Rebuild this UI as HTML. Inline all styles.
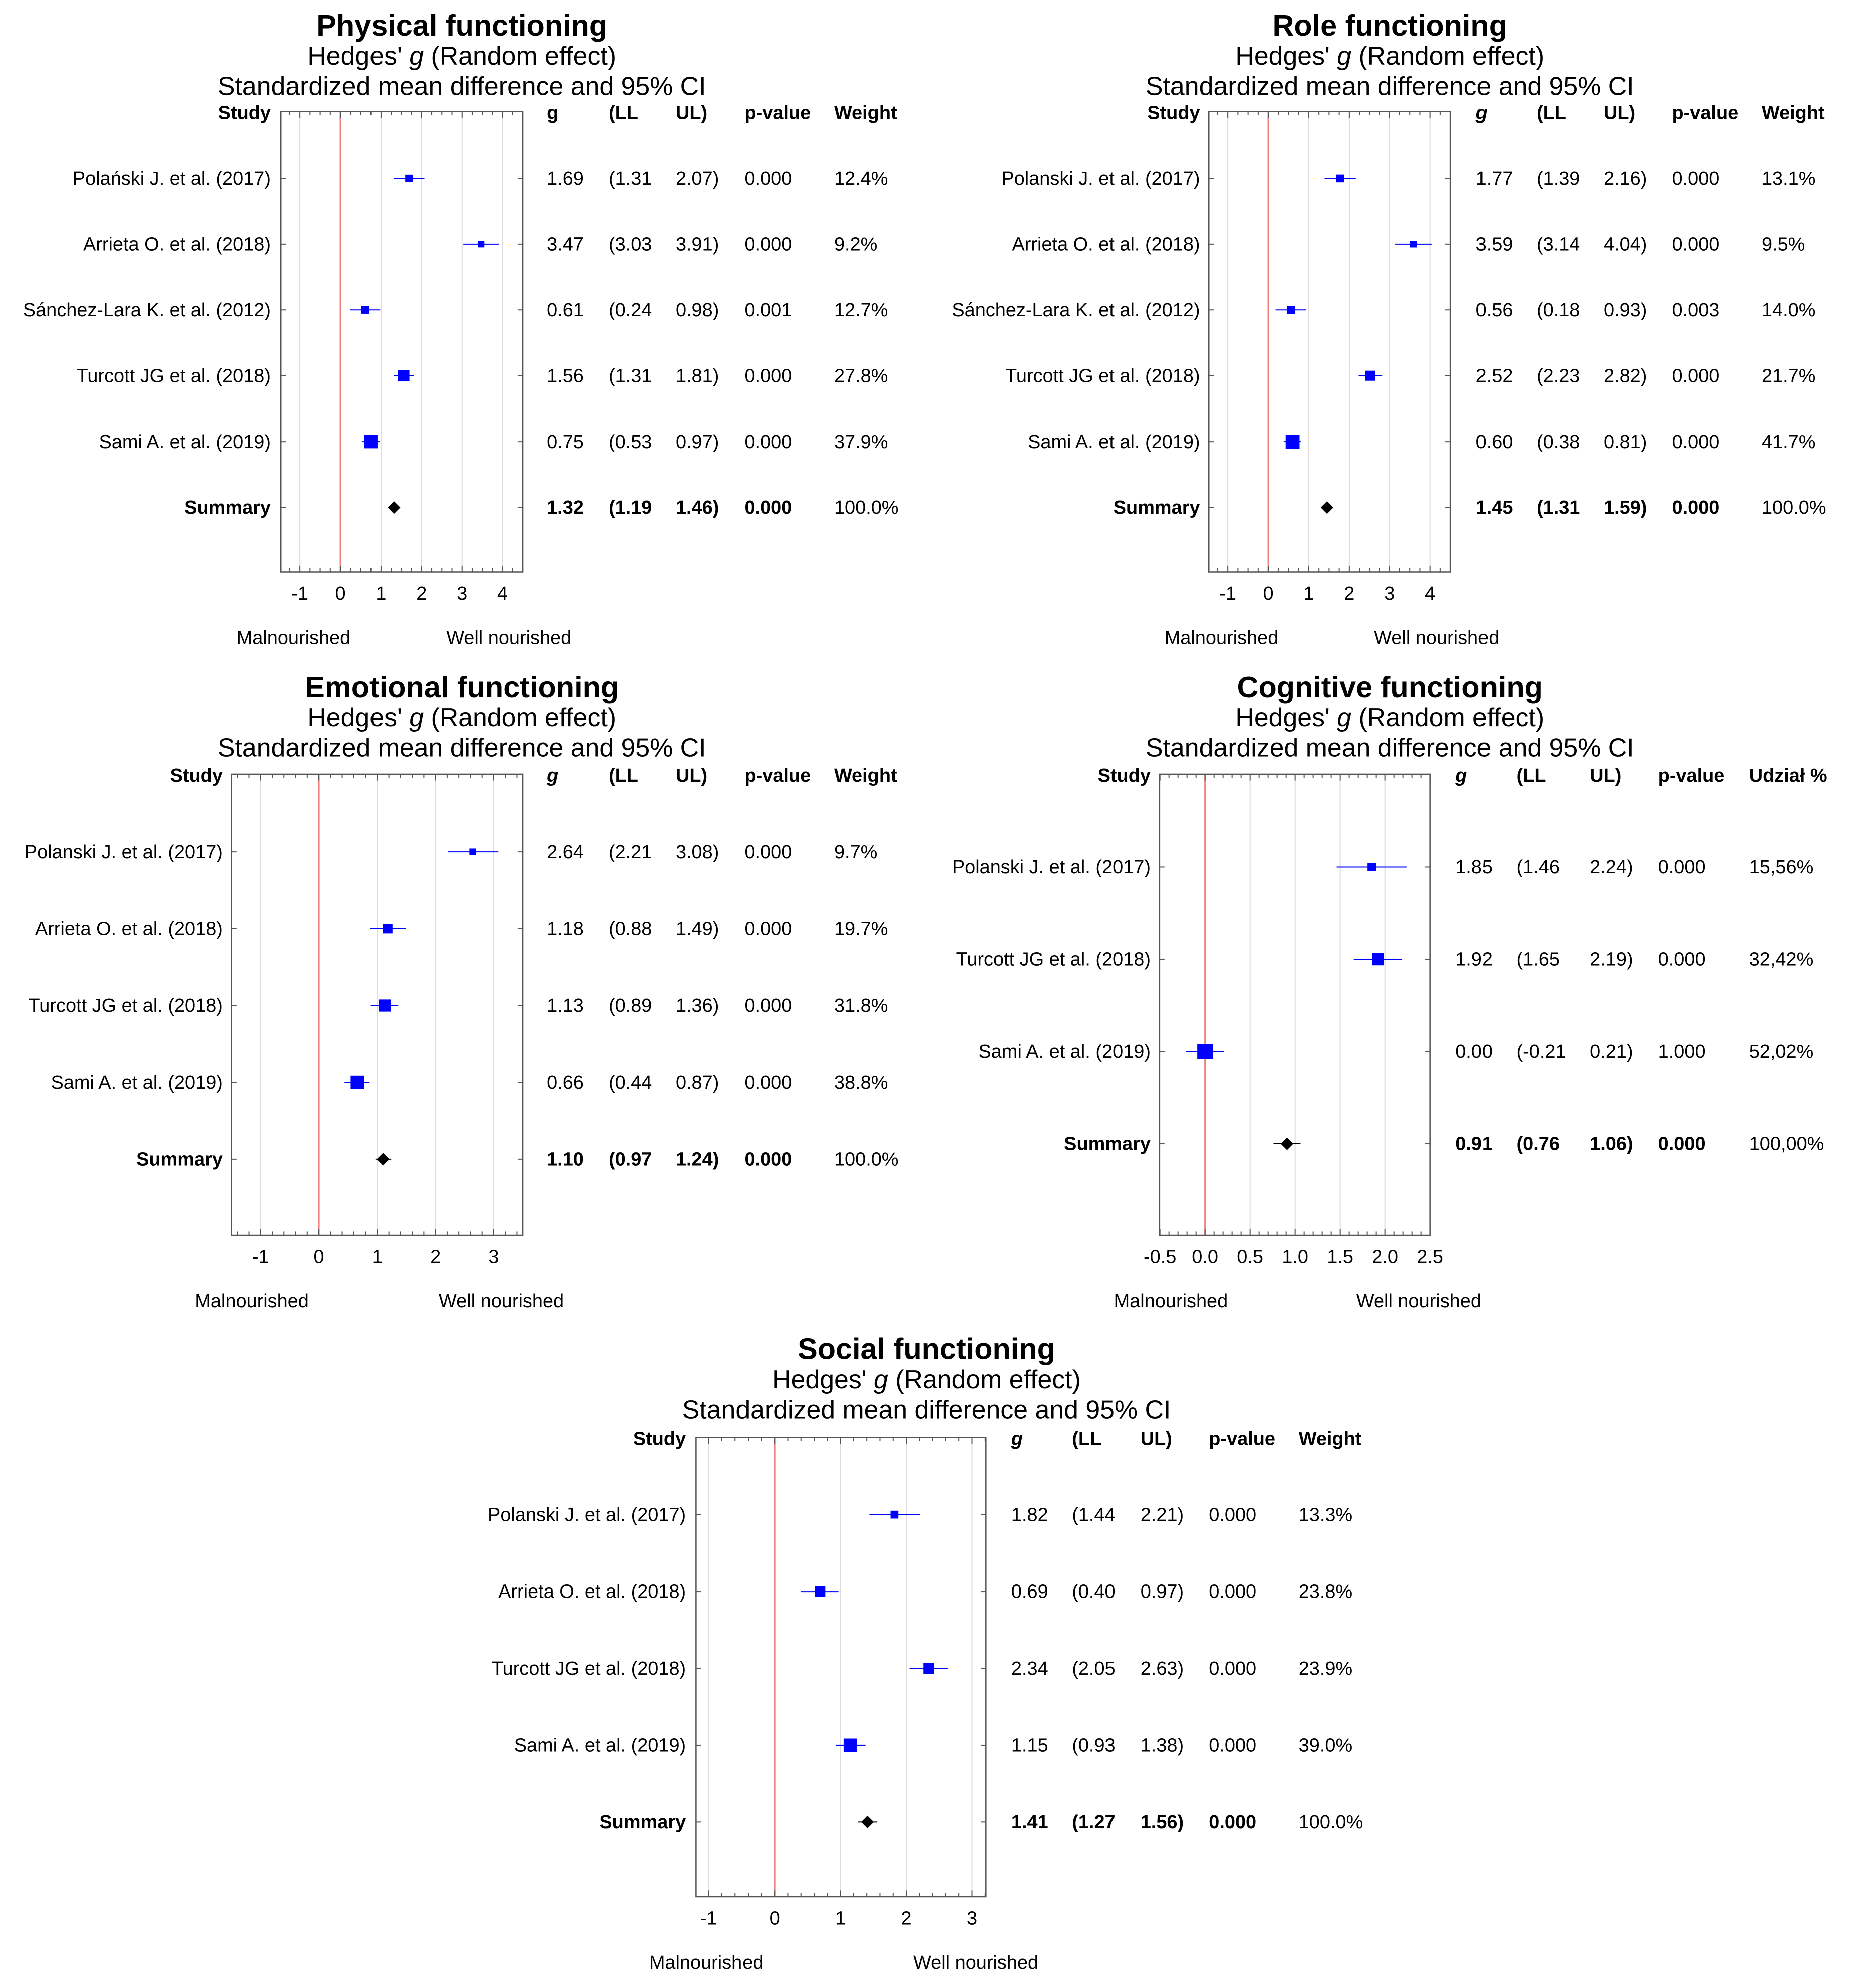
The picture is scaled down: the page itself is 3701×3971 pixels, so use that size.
<!DOCTYPE html>
<html><head><meta charset="utf-8"><style>
html,body{margin:0;padding:0;background:#fff}
svg{display:block}
text{font-family:"Liberation Sans",sans-serif;fill:#000}
</style></head><body>
<svg id="chart" xmlns="http://www.w3.org/2000/svg" width="3701" height="3971" viewBox="0 0 1464 1571" preserveAspectRatio="none"></svg>
<script>
// ---- data ----
const physStudies=["Polański J. et al. (2017)","Arrieta O. et al. (2018)","Sánchez-Lara K. et al. (2012)","Turcott JG et al. (2018)","Sami A. et al. (2019)"];
const physG=[1.69,3.47,0.61,1.56,0.75,1.32];
const physLL=[1.31,3.03,0.24,1.31,0.53,1.19];
const physUL=[2.07,3.91,0.98,1.81,0.97,1.46];
const physP=["0.000","0.000","0.001","0.000","0.000","0.000"];
const physW=[12.4,9.2,12.7,27.8,37.9,100.0];
const physTicks=[-1,0,1,2,3,4];

const roleStudies=["Polanski J. et al. (2017)","Arrieta O. et al. (2018)","Sánchez-Lara K. et al. (2012)","Turcott JG et al. (2018)","Sami A. et al. (2019)"];
const roleG=[1.77,3.59,0.56,2.52,0.60,1.45];
const roleLL=[1.39,3.14,0.18,2.23,0.38,1.31];
const roleUL=[2.16,4.04,0.93,2.82,0.81,1.59];
const roleP=["0.000","0.000","0.003","0.000","0.000","0.000"];
const roleW=[13.1,9.5,14.0,21.7,41.7,100.0];
const roleTicks=[-1,0,1,2,3,4];

const emoStudies=["Polanski J. et al. (2017)","Arrieta O. et al. (2018)","Turcott JG et al. (2018)","Sami A. et al. (2019)"];
const emoG=[2.64,1.18,1.13,0.66,1.10];
const emoLL=[2.21,0.88,0.89,0.44,0.97];
const emoUL=[3.08,1.49,1.36,0.87,1.24];
const emoP=["0.000","0.000","0.000","0.000","0.000"];
const emoW=[9.7,19.7,31.8,38.8,100.0];
const emoTicks=[-1,0,1,2,3];

const cogStudies=["Polanski J. et al. (2017)","Turcott JG et al. (2018)","Sami A. et al. (2019)"];
const cogG=[1.85,1.92,0.00,0.91];
const cogLL=[1.46,1.65,-0.21,0.76];
const cogUL=[2.24,2.19,0.21,1.06];
const cogP=["0.000","0.000","1.000","0.000"];
const cogW=[15.56,32.42,52.02,100.00];
const cogTicks=[-0.5,0,0.5,1,1.5,2,2.5];

const socStudies=["Polanski J. et al. (2017)","Arrieta O. et al. (2018)","Turcott JG et al. (2018)","Sami A. et al. (2019)"];
const socG=[1.82,0.69,2.34,1.15,1.41];
const socLL=[1.44,0.40,2.05,0.93,1.27];
const socUL=[2.21,0.97,2.63,1.38,1.56];
const socP=["0.000","0.000","0.000","0.000","0.000"];
const socW=[13.3,23.8,23.9,39.0,100.0];
const socTicks=[-1,0,1,2,3];

// ---- layout ----
const panels=[
 {id:"physical",title:"Physical functioning",studies:physStudies,g:physG,ll:physLL,ul:physUL,p:physP,w:physW,ticks:physTicks,
  tx:365,ty:19,bx0:222,bx1:413,by0:88,by1:452,x0:269,ppu:32,rowY:141,rowStep:52,lblX:214,cols:[432,481,534,588,659],wh:"Weight",pct:"1",minor:0.25,mal:232,well:402,legY:504,grid:1},
 {id:"role",title:"Role functioning",studies:roleStudies,g:roleG,ll:roleLL,ul:roleUL,p:roleP,w:roleW,ticks:roleTicks,
  tx:1098,ty:19,bx0:955,bx1:1146,by0:88,by1:452,x0:1002,ppu:32,rowY:141,rowStep:52,lblX:948,cols:[1166,1214,1267,1321,1392],wh:"Weight",pct:"1",minor:0.25,mal:965,well:1135,legY:504,grid:1},
 {id:"emotional",title:"Emotional functioning",studies:emoStudies,g:emoG,ll:emoLL,ul:emoUL,p:emoP,w:emoW,ticks:emoTicks,
  tx:365,ty:542,bx0:183,bx1:413,by0:612,by1:976,x0:252,ppu:46,rowY:673,rowStep:60.8,lblX:176,cols:[432,481,534,588,659],wh:"Weight",pct:"1",minor:0.2,mal:199,well:396,legY:1028,grid:1},
 {id:"cognitive",title:"Cognitive functioning",studies:cogStudies,g:cogG,ll:cogLL,ul:cogUL,p:cogP,w:cogW,ticks:cogTicks,
  tx:1098,ty:542,bx0:916,bx1:1130,by0:612,by1:976,x0:952,ppu:71.2,rowY:685,rowStep:73,lblX:909,cols:[1150,1198,1256,1310,1382],wh:"Udział %",pct:"2",minor:0.1,mal:925,well:1121,legY:1028,grid:0.5},
 {id:"social",title:"Social functioning",studies:socStudies,g:socG,ll:socLL,ul:socUL,p:socP,w:socW,ticks:socTicks,
  tx:732,ty:1065,bx0:550,bx1:779,by0:1136,by1:1499,x0:612,ppu:52,rowY:1197,rowStep:60.7,lblX:542,cols:[799,847,901,955,1026],wh:"Weight",pct:"1",minor:0.2,mal:558,well:771,legY:1551,grid:1}
];
const NS="http://www.w3.org/2000/svg";
const svg=document.getElementById('chart');
function mk(tag,attrs,parent,txt){const e=document.createElementNS(NS,tag);for(const k in attrs)e.setAttribute(k,attrs[k]);if(txt!==undefined)e.textContent=txt;parent.appendChild(e);return e;}
function fmt(v){return v.toFixed(2);}
const FS=15;
panels.forEach(P=>{
  const g=mk('g',{},svg);
  
  
  const X=v=>P.x0+v*P.ppu;
  let t=mk('text',{x:P.tx,y:P.ty+9,'text-anchor':'middle','font-size':23.5,'font-weight':'bold'},g,P.title);
  
  t=mk('text',{x:P.tx,y:P.ty+32,'text-anchor':'middle','font-size':20.5},g);
  t.innerHTML="Hedges' <tspan font-style='italic'>g</tspan> (Random effect)";
  
  t=mk('text',{x:P.tx,y:P.ty+56,'text-anchor':'middle','font-size':20.5},g,"Standardized mean difference and 95% CI");
  
  const hy=P.by0+6;
  t=mk('text',{x:P.lblX,y:hy,'text-anchor':'end','font-size':FS,'font-weight':'bold'},g,"Study");
  
  const heads=["g","(LL","UL)","p-value",P.wh];
  heads.forEach((h,i)=>{const a={x:P.cols[i],y:hy,'font-size':FS,'font-weight':'bold'};if(i==0&&P.id!="physical")a['font-style']='italic';
    const e=mk('text',a,g,h);});
  for(let v=P.ticks[0];v<=P.ticks[P.ticks.length-1]+1e-9;v+=P.grid){
    if(Math.abs(v)<1e-9)continue;
    const l=mk('line',{x1:X(v),x2:X(v),y1:P.by0,y2:P.by1,stroke:'#dcdcdc','stroke-width':0.8},g);
    
  }
  let l=mk('line',{x1:X(0),x2:X(0),y1:P.by0,y2:P.by1,stroke:'#f08080','stroke-width':1.2},g);
  
  const box=mk('rect',{x:P.bx0,y:P.by0,width:P.bx1-P.bx0,height:P.by1-P.by0,fill:'none',stroke:'#555','stroke-width':1},g);
  
  const lo=(P.bx0-P.x0)/P.ppu, hi=(P.bx1-P.x0)/P.ppu;
  for(let v=Math.ceil(lo/P.minor)*P.minor;v<=hi+1e-9;v+=P.minor){
    const isMaj=P.ticks.some(k=>Math.abs(k-v)<1e-6);
    const len=isMaj?5:3;
    mk('line',{x1:X(v),x2:X(v),y1:P.by1,y2:P.by1-len,stroke:'#555','stroke-width':0.8},g);
    mk('line',{x1:X(v),x2:X(v),y1:P.by0,y2:P.by0+len,stroke:'#555','stroke-width':0.8},g);
  }
  P.ticks.forEach(v=>{const e=mk('text',{x:X(v),y:P.by1+22,'text-anchor':'middle','font-size':FS},g,P.id=="cognitive"?v.toFixed(1):String(v));
    });
  t=mk('text',{x:P.mal,y:P.legY+5,'text-anchor':'middle','font-size':FS},g,"Malnourished");
  
  t=mk('text',{x:P.well,y:P.legY+5,'text-anchor':'middle','font-size':FS},g,"Well nourished");
  
  const n=P.g.length;
  for(let i=0;i<n;i++){
    const y=P.rowY+i*P.rowStep, summ=(i==n-1);
    mk('line',{x1:P.bx0,x2:P.bx0+4,y1:y,y2:y,stroke:'#555','stroke-width':0.8},g);
    mk('line',{x1:P.bx1-4,x2:P.bx1,y1:y,y2:y,stroke:'#555','stroke-width':0.8},g);
    const lab=mk('text',{x:P.lblX,y:y+5,'text-anchor':'end','font-size':FS,'font-weight':summ?'bold':'normal'},g,summ?"Summary":P.studies[i]);
    
    const ci=mk('line',{x1:X(P.ll[i]),x2:X(P.ul[i]),y1:y,y2:y,stroke:summ?'#000':'#0000ff','stroke-width':0.8},g);
    
    if(summ){
      const cx=X(P.g[i]);
      const d=mk('polygon',{points:`${cx-5},${y} ${cx},${y-5} ${cx+5},${y} ${cx},${y+5}`,fill:'#000'},g);
      
    } else {
      const s=Math.sqrt(P.w[i])*1.7;
      const r=mk('rect',{x:X(P.g[i])-s/2,y:y-s/2,width:s,height:s,fill:'#0000ff'},g);
      
    }
    const fw=summ?'bold':'normal';
    const vals=[fmt(P.g[i]),"("+fmt(P.ll[i]),fmt(P.ul[i])+")",P.p[i],
      P.pct=="2"?P.w[i].toFixed(2).replace('.',',')+"%":P.w[i].toFixed(1)+"%"];
    vals.forEach((v,k)=>{const e=mk('text',{x:P.cols[k],y:y+5,'font-size':FS,'font-weight':k<4?fw:'normal'},g,v);
      });
  }
});
</script>
</body></html>
